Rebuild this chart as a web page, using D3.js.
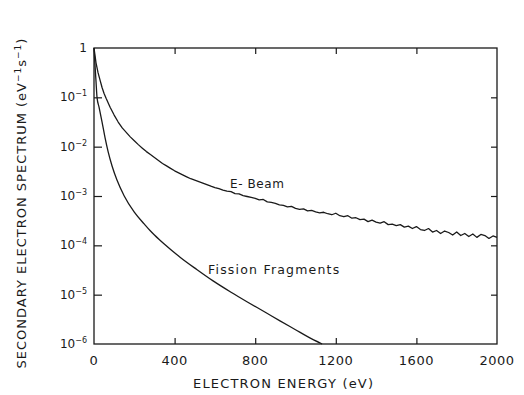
<!DOCTYPE html>
<html>
<head>
<meta charset="utf-8">
<script src="https://cdn.jsdelivr.net/npm/d3@7"></script>
<style>
  html, body { margin: 0; padding: 0; background: #fff; }
  svg { display: block; }
  text { font-family: "DejaVu Sans", sans-serif; fill: #1a1a1a; }
</style>
</head>
<body>
<svg id="chart" width="524" height="395"></svg>
<script>
// ---- data ----
const xTicks = [0, 400, 800, 1200, 1600, 2000];
const yTicks = [1, 1e-1, 1e-2, 1e-3, 1e-4, 1e-5, 1e-6];
const yTickExp = ["", "-1", "-2", "-3", "-4", "-5", "-6"];

const ebeamEnergy = [0,10,20,30,40,50,60,80,100,120,140,160,180,200,220,240,260,280,300,320,340,360,380,400,420,440,460,480,500,520,540,560,580,600,620,640,660,680,700,720,740,760,780,800,820,840,860,880,900,920,940,960,980,1000,1020,1040,1060,1080,1100,1120,1140,1160,1180,1200,1220,1240,1260,1280,1300,1320,1340,1360,1380,1400,1420,1440,1460,1480,1500,1520,1540,1560,1580,1600,1620,1640,1660,1680,1700,1720,1740,1760,1780,1800,1820,1840,1860,1880,1900,1920,1940,1960,1980,2000];
const ebeamValue = [1.0,0.501,0.316,0.224,0.158,0.120,0.0955,0.0631,0.0437,0.0316,0.0240,0.0195,0.0158,0.0132,0.0110,0.00933,0.00794,0.00692,0.00603,0.00525,0.00457,0.00407,0.00363,0.00324,0.00295,0.00269,0.00245,0.00224,0.00209,0.00195,0.00182,0.00170,0.00158,
  1.48e-3,1.41e-3,1.32e-3,1.26e-3,1.23e-3,1.12e-3,1.10e-3,1.02e-3,9.77e-4,9.33e-4,8.91e-4,8.32e-4,8.51e-4,7.59e-4,7.41e-4,7.08e-4,6.61e-4,6.46e-4,6.03e-4,6.17e-4,
  5.62e-4,5.37e-4,5.50e-4,5.01e-4,5.13e-4,4.79e-4,4.57e-4,4.68e-4,4.37e-4,4.17e-4,4.47e-4,3.98e-4,3.80e-4,3.98e-4,3.55e-4,3.63e-4,3.31e-4,3.39e-4,3.02e-4,3.24e-4,
  2.95e-4,2.82e-4,3.02e-4,2.63e-4,2.69e-4,2.51e-4,2.63e-4,2.34e-4,2.45e-4,2.19e-4,2.40e-4,2.09e-4,2.00e-4,2.19e-4,1.86e-4,2.00e-4,1.74e-4,1.95e-4,1.82e-4,1.62e-4,
  1.86e-4,1.58e-4,1.74e-4,1.51e-4,1.70e-4,1.45e-4,1.66e-4,1.58e-4,1.38e-4,1.55e-4,1.45e-4];

const fissionEnergy = [0,5,10,15,25,40,55,70,90,114,150,200,250,278,300,350,427,510,591,680,759,850,923,1000,1060,1132];
const fissionValue = [1,0.45,0.21,0.1,0.063,0.0316,0.015,0.0079,0.004,0.0021,0.001,4.7e-4,2.69e-4,2.0e-4,1.62e-4,1.05e-4,5.75e-5,3.24e-5,1.9e-5,1.12e-5,7.2e-6,4.4e-6,2.95e-6,1.95e-6,1.41e-6,1e-6];

const seriesLabels = ["E- Beam", "Fission Fragments"];

// ---- layout ----
const svg = d3.select("#chart");
const mLeft = 94, mRight = 497, mTop = 48, mBottom = 344;
const x = d3.scaleLinear().domain([0, 2000]).range([mLeft, mRight]);
const y = d3.scaleLog().domain([1e-6, 1]).range([mBottom, mTop]);
const ink = "#1a1a1a";

// frame
svg.append("rect").attr("x", mLeft).attr("y", mTop)
  .attr("width", mRight - mLeft).attr("height", mBottom - mTop)
  .attr("fill", "none").attr("stroke", ink).attr("stroke-width", 1.3);

// inward ticks via d3 axes
const tk = 6;
svg.append("g").attr("transform", `translate(0,${mBottom})`)
  .call(d3.axisTop(x).tickValues(xTicks.slice(1, -1)).tickSize(tk).tickFormat(""))
  .call(g => g.select(".domain").remove());
svg.append("g").attr("transform", `translate(0,${mTop})`)
  .call(d3.axisBottom(x).tickValues(xTicks.slice(1, -1)).tickSize(tk).tickFormat(""))
  .call(g => g.select(".domain").remove());
svg.append("g").attr("transform", `translate(${mLeft},0)`)
  .call(d3.axisRight(y).tickValues(yTicks.slice(1, -1)).tickSize(8).tickFormat(""))
  .call(g => g.select(".domain").remove());
svg.append("g").attr("transform", `translate(${mRight},0)`)
  .call(d3.axisLeft(y).tickValues(yTicks.slice(1, -1)).tickSize(tk).tickFormat(""))
  .call(g => g.select(".domain").remove());
svg.selectAll(".tick line").attr("stroke", ink).attr("stroke-width", 1.2);

// x tick labels
svg.append("g").selectAll("text").data(xTicks).join("text")
  .attr("x", d => x(d)).attr("y", 365)
  .attr("text-anchor", "middle").attr("font-size", 13)
  .attr("letter-spacing", 0.5)
  .text(d => d);

// y tick labels
const yl = svg.append("g").selectAll("text").data(yTicks).join("text")
  .attr("x", 87).attr("y", d => y(d) + 4)
  .attr("text-anchor", "end").attr("font-size", 12);
yl.each(function(d, i) {
  const t = d3.select(this);
  if (i === 0) { t.text("1"); return; }
  t.append("tspan").text("10");
  t.append("tspan").attr("font-size", 8).attr("dy", -5).text("\u2212" + yTickExp[i].slice(1));
});

// axis titles
svg.append("text").attr("x", 283).attr("y", 388)
  .attr("text-anchor", "middle").attr("font-size", 13)
  .attr("textLength", 180).attr("lengthAdjust", "spacing")
  .text("ELECTRON ENERGY (eV)");

const yt = svg.append("text")
  .attr("transform", "translate(26,203) rotate(-90)")
  .attr("text-anchor", "middle").attr("font-size", 13)
  .attr("letter-spacing", 1.0);
yt.append("tspan").text("SECONDARY ELECTRON SPECTRUM (eV");
yt.append("tspan").attr("font-size", 9).attr("dy", -5).text("\u22121");
yt.append("tspan").attr("dy", 5).text("s");
yt.append("tspan").attr("font-size", 9).attr("dy", -5).text("\u22121");
yt.append("tspan").attr("dy", 5).text(")");

// curves
const line = d3.line().x(d => x(d[0])).y(d => y(d[1]));
svg.append("path").datum(d3.zip(ebeamEnergy, ebeamValue))
  .attr("d", line).attr("fill", "none").attr("stroke", ink)
  .attr("stroke-width", 1.3).attr("stroke-linejoin", "round");
svg.append("path").datum(d3.zip(fissionEnergy, fissionValue))
  .attr("d", d3.line().curve(d3.curveMonotoneX).x(d => x(d[0])).y(d => y(d[1])))
  .attr("fill", "none").attr("stroke", ink)
  .attr("stroke-width", 1.3);

// curve labels
svg.append("text").attr("x", 230).attr("y", 188).attr("font-size", 12)
  .attr("letter-spacing", 0.6).text(seriesLabels[0]);
svg.append("text").attr("x", 208).attr("y", 274).attr("font-size", 12.5)
  .attr("letter-spacing", 1.2).text(seriesLabels[1]);
</script>
</body>
</html>
